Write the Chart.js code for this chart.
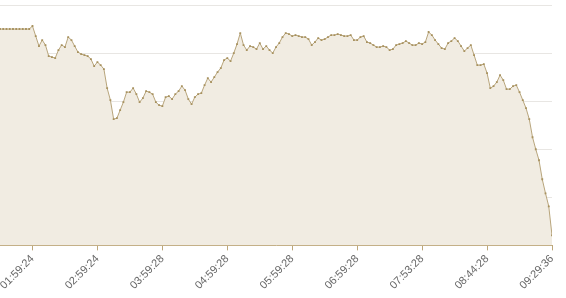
<!DOCTYPE html>
<html>
<head>
<meta charset="utf-8">
<script src="https://cdn.jsdelivr.net/npm/chart.js@4.4.1/dist/chart.umd.min.js"></script>
<style>
  html, body { margin: 0; padding: 0; background: #fff; overflow: hidden; }
  canvas { display: block; margin-left: -4px; }
</style>
</head>
<body>
<canvas id="myChart" width="570" height="298"></canvas>
<script>
// one reading per sample, left to right
const values = [
  216, 216, 216, 216, 216, 216, 216, 216, 216, 216,
  219, 209, 199, 205, 200, 189, 188, 187, 195, 200,
  198, 208, 205, 199, 193, 191, 190, 189, 186, 179,
  183, 180, 176, 157, 145, 126, 127, 135, 143, 153,
  153, 157, 151, 143, 147, 154, 153, 151, 143, 140,
  139, 148, 149, 146, 151, 154, 159, 155, 146, 141,
  148, 151, 152, 160, 167, 163, 168, 173, 177, 185,
  187, 184, 192, 201, 212, 200, 195, 199, 198, 196,
  202, 196, 199, 195, 192, 198, 202, 208, 212, 211,
  209, 210, 209, 208, 208, 206, 200, 203, 207, 205,
  206, 208, 210, 210, 211, 210, 209, 209, 210, 205,
  205, 208, 209, 203, 202, 200, 198, 198, 199, 198,
  195, 196, 200, 201, 202, 204, 202, 200, 200, 202,
  201, 203, 213, 210, 205, 201, 197, 196, 202, 204,
  207, 204, 199, 194, 197, 200, 190, 180, 180, 181,
  172, 157, 159, 163, 170, 165, 156, 156, 159, 160,
  153, 145, 137, 126, 108, 96, 85, 66, 52, 39,
  10
];

const tickLabels = ['01:59:24', '02:59:24', '03:59:28', '04:59:28', '05:59:28',
                    '06:59:28', '07:53:28', '08:44:28', '09:29:36'];
// sample index of each labelled tick
const tickIndex = [10, 30, 50, 70, 90, 110, 130, 150, 170];

const points = values.map((v, i) => ({ x: i, y: v }));

const ctx = document.getElementById('myChart').getContext('2d');
new Chart(ctx, {
  type: 'line',
  data: {
    datasets: [{
      data: points,
      borderColor: '#b8a57c',
      borderWidth: 1,
      backgroundColor: '#f1ece2',
      fill: 'origin',
      tension: 0,
      pointStyle: 'rect',
      pointRadius: 1.3,
      pointBorderWidth: 0,
      pointBackgroundColor: '#a8925f'
    }]
  },
  options: {
    responsive: false,
    animation: false,
    layout: {
      padding: { left: 0, right: 14, top: 5, bottom: 4 }
    },
    plugins: {
      legend: { display: false },
      tooltip: { enabled: false }
    },
    scales: {
      x: {
        type: 'linear',
        min: 0,
        max: values.length - 1,
        afterBuildTicks: (axis) => {
          axis.ticks = tickIndex.map(v => ({ value: v }));
        },
        grid: {
          drawOnChartArea: false,
          drawTicks: true,
          tickLength: 5,
          color: '#bda77a'
        },
        border: { color: '#bda77a' },
        ticks: {
          autoSkip: false,
          minRotation: 45,
          maxRotation: 45,
          padding: 2,
          color: '#666',
          font: { family: 'Liberation Sans', size: 11 },
          callback: (value) => tickLabels[tickIndex.indexOf(value)]
        }
      },
      y: {
        min: 0,
        max: 240,
        ticks: { display: false, stepSize: 48 },
        grid: { color: '#e8e6e3', drawTicks: false },
        border: { display: false }
      }
    }
  }
});
</script>
</body>
</html>
